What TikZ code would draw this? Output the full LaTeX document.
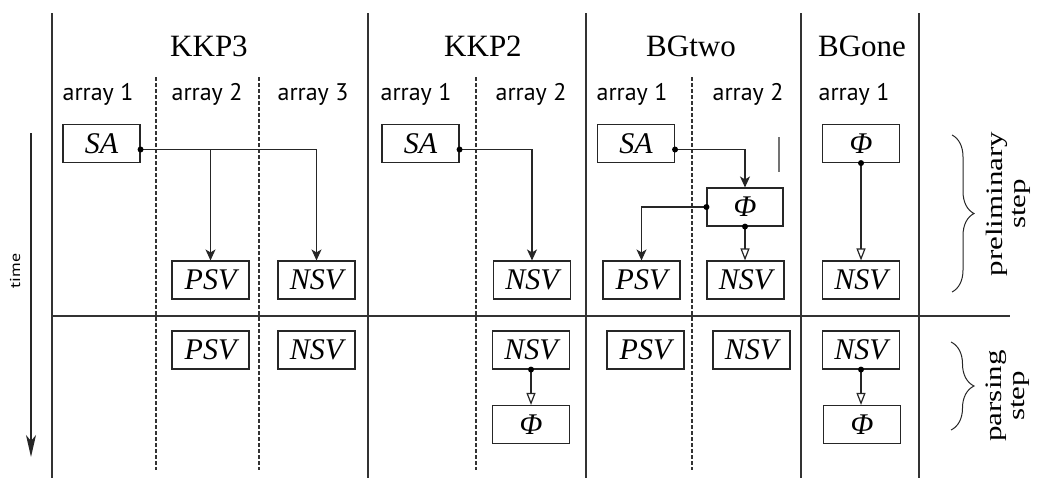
\documentclass[tikz,border=0pt]{standalone}
\usepackage{fontspec}
\setmainfont{Liberation Serif}
\setsansfont{PT Sans}
\usetikzlibrary{arrows.meta,decorations.pathreplacing}
\begin{document}
\begin{tikzpicture}[x=1pt,y=-1pt,
  gridline/.style={line width=1.2pt, draw=black!80},
  dgridline/.style={gridline, dash pattern=on 4pt off 2pt},
  box/.style={draw=black!85, line width=1.1pt, minimum width=77pt, minimum height=38pt, inner sep=0pt, font=\fontsize{30}{30}\selectfont\itshape},
  head/.style={font=\fontsize{31}{31}\selectfont, anchor=base, inner sep=0pt},
  arrlab/.style={font=\sffamily\fontsize{24}{24}\selectfont, anchor=base, inner sep=0pt},
  conn/.style={line width=1.2pt, draw=black!85},
  fa/.style={conn, -{Stealth[length=11pt,width=10pt,inset=3pt]}},
  oa/.style={conn, -{Triangle[open,length=12pt,width=9pt]}},
  dotc/.style={fill=black},
  bracec/.style={decorate, line width=1pt, draw=black!85},
  rotlab/.style={transform shape, align=center, inner sep=0pt, font=\fontsize{31}{30}\selectfont}
]
\useasboundingbox (0,0) rectangle (1040,479);

% grid
\coordinate (v1t) at (52,13);   \coordinate (v1b) at (52,478);
\coordinate (v2t) at (368,13);  \coordinate (v2b) at (368,478);
\coordinate (v3t) at (586,13);  \coordinate (v3b) at (586,478);
\coordinate (v4t) at (801,13);  \coordinate (v4b) at (801,478);
\coordinate (v5t) at (919,13);  \coordinate (v5b) at (919,478);
\coordinate (hl) at (52,316);   \coordinate (hr) at (1010,316);
\foreach \a/\b in {v1t/v1b,v2t/v2b,v3t/v3b,v4t/v4b,v5t/v5b,hl/hr}
  \draw[gridline] (\a) -- (\b);
\coordinate (d1t) at (156,77); \coordinate (d1b) at (156,470);
\coordinate (d2t) at (259,77); \coordinate (d2b) at (259,470);
\coordinate (d3t) at (476,77); \coordinate (d3b) at (476,470);
\coordinate (d4t) at (692,77); \coordinate (d4b) at (692,470);
\foreach \a/\b in {d1t/d1b,d2t/d2b,d3t/d3b,d4t/d4b}
  \draw[dgridline] (\a) -- (\b);

% time arrow
\coordinate (tA) at (31,133);
\coordinate (tB) at (31,457);
\draw[line width=1.5pt, draw=black!85, -{Stealth[length=22pt,width=10pt,inset=6pt]}] (tA) -- (tB);
\begin{scope}[shift={(15,271)}, xscale=0.8, rotate=90]
  \node[transform shape, inner sep=0pt, font=\sffamily\fontsize{18}{18}\selectfont] (time) at (0,0) {time};
\end{scope}

% headers
\node[head] (hk3) at (209,56) {KKP3};
\node[head] (hk2) at (483,56) {KKP2};
\node[head] (hb2) at (691,56) {BGtwo};
\node[head] (hb1) at (862,56) {BGone};

% array labels
\node[arrlab] (a31) at (98,100) {array 1};
\node[arrlab] (a32) at (207,100) {array 2};
\node[arrlab] (a33) at (313,100) {array 3};
\node[arrlab] (a21) at (416,100) {array 1};
\node[arrlab] (a22) at (531,100) {array 2};
\node[arrlab] (b21) at (632,100) {array 1};
\node[arrlab] (b22) at (748,100) {array 2};
\node[arrlab] (b11) at (854,100) {array 1};

% KKP3
\node[box] (sa3) at (101.5,143.5) {SA};
\node[box] (psv3) at (210.5,280) {PSV};
\node[box] (nsv3) at (316.5,280) {NSV};
\node[box] (psv3p) at (210.5,350) {PSV};
\node[box] (nsv3p) at (316.5,350) {NSV};
\draw[fa] ([yshift=-6pt]sa3.east) -| (psv3.north);
\draw[fa] ([yshift=-6pt]sa3.east) -| (nsv3.north);
\fill[dotc] ([yshift=-6pt]sa3.east) circle (3pt);

% KKP2
\node[box] (sa2) at (420.5,143.5) {SA};
\node[box] (nsv2) at (532,280) {NSV};
\node[box] (nsv2p) at (531,350) {NSV};
\node[box] (phi2) at (531,424.5) {Φ};
\draw[fa] ([yshift=-6pt]sa2.east) -| (nsv2.north);
\fill[dotc] ([yshift=-6pt]sa2.east) circle (3pt);
\draw[oa] (nsv2p.south) -- (phi2.north);
\fill[dotc] (nsv2p.south) circle (3pt);

% BGtwo
\node[box] (sab2) at (636,143.5) {SA};
\node[box, minimum width=76pt] (phib2) at (745,207) {Φ};
\node[box] (psvb2) at (641.5,280) {PSV};
\node[box] (nsvb2) at (745.5,280) {NSV};
\node[box] (psvb2p) at (645.5,350) {PSV};
\node[box] (nsvb2p) at (751.5,350) {NSV};
\draw[fa] ([yshift=-6pt]sab2.east) -| (phib2.north);
\fill[dotc] ([yshift=-6pt]sab2.east) circle (3pt);
\draw[fa] (phib2.west) -| (psvb2.north);
\fill[dotc] (phib2.west) circle (3pt);
\draw[oa] (phib2.south) -- (phib2.south |- nsvb2.north);
\fill[dotc] (phib2.south) circle (3pt);
\draw[line width=1.2pt, draw=black!55] (779,137) -- (779,172);

% BGone
\node[box] (phib1) at (861,143.5) {Φ};
\node[box] (nsvb1) at (861,280) {NSV};
\node[box] (nsvb1p) at (861,350) {NSV};
\node[box] (phib1p) at (862,424.5) {Φ};
\draw[oa] (phib1.south) -- (nsvb1.north);
\fill[dotc] (phib1.south) circle (3pt);
\draw[oa] (nsvb1p.south) -- (nsvb1p.south |- phib1p.north);
\fill[dotc] (nsvb1p.south) circle (3pt);

% braces
\coordinate (br1t) at (952,135); \coordinate (br1b) at (952,292);
\coordinate (br2t) at (951,342); \coordinate (br2b) at (951,430);
\draw[bracec, decoration={brace, amplitude=22pt}] (br1t) -- (br1b);
\draw[bracec, decoration={brace, amplitude=23pt}] (br2t) -- (br2b);
\begin{scope}[shift={(986,204)}, xscale=0.76, rotate=90]
  \node[rotlab, anchor=north] (prel) at (0,0) {preliminary\\step};
\end{scope}
\begin{scope}[shift={(986,396)}, xscale=0.76, rotate=90]
  \node[rotlab, anchor=north] (pars) at (0,0) {parsing\\step};
\end{scope}
\end{tikzpicture}
\end{document}
